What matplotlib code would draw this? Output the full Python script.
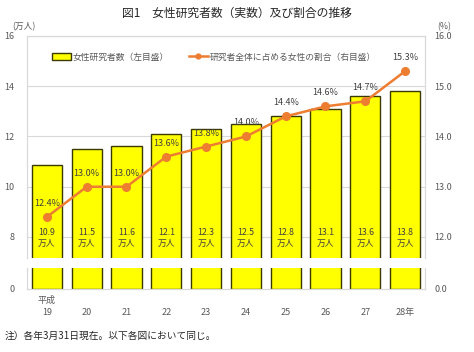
import matplotlib
matplotlib.use("Agg")
import matplotlib.pyplot as plt
from matplotlib.patches import Patch
from matplotlib.lines import Line2D
import numpy as np

plt.rcParams['font.family'] = ['Noto Sans CJK JP', 'DejaVu Sans']

years = ["19", "20", "21", "22", "23", "24", "25", "26", "27", "28年"]
researchers = [10.86, 11.5, 11.6, 12.1, 12.3, 12.5, 12.8, 13.1, 13.6, 13.8]
share = [12.4, 13.0, 13.0, 13.6, 13.8, 14.0, 14.4, 14.6, 14.7, 15.3]

W, H = 474, 352
fig = plt.figure(figsize=(W / 100, H / 100), dpi=100)

def fx(px):
    return px / W

def fy(py):
    return 1 - py / H

L, R = 27, 425
top_t, top_b = 36, 258
low_t, low_b = 268, 289

ax = fig.add_axes([fx(L), fy(top_b), fx(R - L), (top_b - top_t) / H])
axl = fig.add_axes([fx(L), fy(low_b), fx(R - L), (low_b - low_t) / H])
ax2 = ax.twinx()
axl2 = axl.twinx()

x = np.arange(len(years))
grid_c = "#D9D9D9"
txt_c = "#595959"
bar_c = "#FFFF00"
edge_c = "#3A3A00"
line_c = "#ED7D31"

for a in (ax, axl):
    a.bar(x, researchers, width=0.76, color=bar_c, edgecolor=edge_c, linewidth=1.0, zorder=2)
    a.set_xlim(-0.5, len(years) - 0.5)

ax.set_ylim(8 - 21 / 25, 16)
ax.set_yticks([8, 10, 12, 14, 16])
ax.set_yticklabels(["8", "10", "12", "14", "16"])
ax.grid(axis='y', color=grid_c, linewidth=0.8, zorder=0)
ax.set_axisbelow(True)
ax.set_xticks([])

ax2.set_ylim(12 - 21 / 50.25, 16)
ax2.set_yticks([12, 13, 14, 15, 16])
ax2.set_yticklabels(["12.0", "13.0", "14.0", "15.0", "16.0"])
ax2.plot(x, share, color=line_c, linewidth=1.8, marker='o', markersize=5.5, zorder=3)

for xi, v in zip(x, share):
    ax2.annotate(f"{v:.1f}%", (xi, v), xytext=(0, 6.5), textcoords='offset points',
                 ha='center', va='bottom', fontsize=6.5, color="#404040")

for xi, v in zip(x, researchers):
    ax.text(xi, 7.95, f"{v:.1f}\n万人", ha='center', va='center', fontsize=6.3,
            color="#404040", linespacing=1.35, zorder=4)

axl.set_ylim(0, 1)
axl.set_yticks([0])
axl.set_yticklabels(["0"])
axl2.set_ylim(0, 1)
axl2.set_yticks([0])
axl2.set_yticklabels(["0.0"])
axl.set_xticks(x)
axl.set_xticklabels(years)

for a in (ax, ax2, axl, axl2):
    for s in a.spines.values():
        s.set_color(grid_c)
        s.set_linewidth(0.8)
    a.tick_params(length=0, labelsize=6.5, labelcolor=txt_c)
for a in (ax, ax2):
    a.spines['bottom'].set_visible(False)
for a in (axl, axl2):
    a.spines['top'].set_visible(False)
ax.tick_params(axis='y', pad=9)
ax2.tick_params(axis='y', pad=7)
axl.tick_params(axis='y', pad=9)
axl2.tick_params(axis='y', pad=7)
axl.tick_params(axis='x', pad=14)

fig.text(fx(47), fy(300), "平成", ha='center', va='center', fontsize=6.5, color=txt_c)

fig.text(0.5, fy(13), "図1　女性研究者数（実数）及び割合の推移", ha='center', va='center',
         fontsize=8.5, color="#262626")
fig.text(fx(12), fy(27), "(万人)", ha='left', va='center', fontsize=6.3, color=txt_c)
fig.text(fx(437), fy(27), "(%)", ha='left', va='center', fontsize=6.3, color=txt_c)
fig.text(fx(5), fy(336), "注）各年3月31日現在。以下各図において同じ。", ha='left', va='center',
         fontsize=7, color="#262626")

handles = [Patch(facecolor=bar_c, edgecolor=edge_c, linewidth=1.0),
           Line2D([0], [0], color=line_c, linewidth=1.8, marker='o', markersize=3.5)]
labels = ["女性研究者数（左目盛）", "研究者全体に占める女性の割合（右目盛）"]
leg = fig.legend(handles, labels, loc='center left', bbox_to_anchor=(fx(52), fy(57)),
                 ncol=2, frameon=False, fontsize=6.3, handlelength=2.2, handleheight=0.8,
                 handletextpad=0.2, columnspacing=2.2, borderpad=0, borderaxespad=0)
for t in leg.get_texts():
    t.set_color(txt_c)

fig.savefig("out.png", dpi=100)
